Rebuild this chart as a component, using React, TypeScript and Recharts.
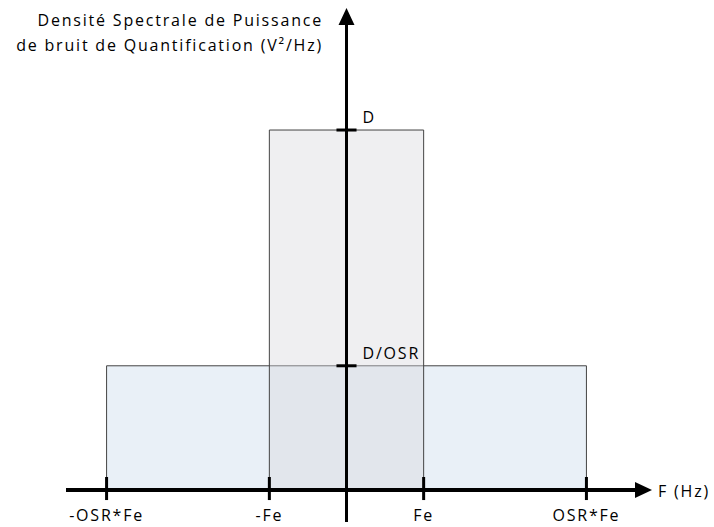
import React from 'react'
import { ComposedChart, XAxis, YAxis, ReferenceArea, ReferenceLine } from 'recharts'

// frequency marks on the F axis (in units of Fe)
const freqLabels = ['-OSR*Fe', '-Fe', 'Fe', 'OSR*Fe']
const freqValues = [-3.11, -1, 1, 3.11]

// levels on the PSD axis (in units of D)
const levelLabels = ['D', 'D/OSR']
const levelValues = [1, 0.345]

// the two noise bands: [from, to, level]
const bandFrom = [-3.11, -1]
const bandTo = [3.11, 1]
const bandLevel = [0.345, 1]
const bandFill = ['#c9d9ec', '#d6d6dc']

const font = '"Open Sans", sans-serif'
const spacing = '1.8px'

const ArrowLine = (props: any) => {
  const { x1, y1, x2, y2 } = props
  const dx = x2 - x1
  const dy = y2 - y1
  const len = Math.sqrt(dx * dx + dy * dy) || 1
  const ux = dx / len
  const uy = dy / len
  const L = 17
  const W = 8
  const bx = x2 - ux * L
  const by = y2 - uy * L
  const pts = `${x2},${y2} ${bx - uy * W},${by + ux * W} ${bx + uy * W},${by - ux * W}`
  return (
    <g>
      <line x1={x1} y1={y1} x2={bx + ux * 2} y2={by + uy * 2} stroke="#000" strokeWidth={props.strokeWidth} />
      <polygon points={pts} fill="#000" />
    </g>
  )
}

const FreqLabel = (props: any) => {
  const { viewBox, value } = props
  return (
    <text
      x={viewBox.x}
      y={viewBox.y + viewBox.height + 21}
      textAnchor="middle"
      fontFamily={font}
      fontSize={16}
      fill="#000"
      style={{ letterSpacing: spacing }}
    >
      {value}
    </text>
  )
}

const LevelLabel = (props: any) => {
  const { viewBox, value } = props
  return (
    <text
      x={viewBox.x + viewBox.width + 6}
      y={viewBox.y - 7}
      textAnchor="start"
      fontFamily={font}
      fontSize={16}
      fill="#000"
      style={{ letterSpacing: spacing }}
    >
      {value}
    </text>
  )
}

export default function App() {
  return (
    <div style={{ position: 'absolute', left: 0, top: 0, width: 714, height: 527 }}>
      <ComposedChart
        width={714}
        height={527}
        data={[{ f: 0, v: 0 }]}
        margin={{ top: 8, right: 62, left: 66, bottom: 5 }}
      >
        <XAxis type="number" dataKey="f" domain={[-3.636, 3.96]} hide allowDataOverflow />
        <YAxis type="number" domain={[-0.089, 1.339]} hide allowDataOverflow />
        <ReferenceLine
          segment={[{ x: 0, y: -0.089 }, { x: 0, y: 1.339 }]}
          stroke="#000"
          strokeWidth={3}
          ifOverflow="visible"
          shape={ArrowLine}
        />
        {bandFrom.map((x1, i) => (
          <ReferenceArea
            key={'band' + i}
            x1={x1}
            x2={bandTo[i]}
            y1={0}
            y2={bandLevel[i]}
            fill={bandFill[i]}
            fillOpacity={0.4}
            stroke="#444"
            strokeWidth={1}
            strokeOpacity={1}
            ifOverflow="visible"
          />
        ))}
        <ReferenceLine
          segment={[{ x: -3.636, y: 0 }, { x: 3.96, y: 0 }]}
          stroke="#000"
          strokeWidth={4}
          ifOverflow="visible"
          shape={ArrowLine}
        />
        {freqValues.map((x, i) => (
          <ReferenceLine
            key={'ft' + i}
            segment={[{ x, y: 0.036 }, { x, y: -0.028 }]}
            stroke="#000"
            strokeWidth={3}
            ifOverflow="visible"
            label={<FreqLabel value={freqLabels[i]} />}
          />
        ))}
        {levelValues.map((y, i) => (
          <ReferenceLine
            key={'lt' + i}
            segment={[{ x: -0.13, y }, { x: 0.13, y }]}
            stroke="#000"
            strokeWidth={3}
            ifOverflow="visible"
            label={<LevelLabel value={levelLabels[i]} />}
          />
        ))}
      </ComposedChart>
      <div
        style={{
          position: 'absolute',
          right: 714 - 323,
          top: 8,
          textAlign: 'right',
          fontFamily: font,
          fontSize: 16,
          lineHeight: '25px',
          letterSpacing: spacing,
          whiteSpace: 'nowrap',
          color: '#000',
        }}
      >
        Densité Spectrale de Puissance
        <br />
        de bruit de Quantification (V²/Hz)
      </div>
      <div
        style={{
          position: 'absolute',
          left: 658,
          top: 480,
          fontFamily: font,
          fontSize: 16,
          letterSpacing: spacing,
          whiteSpace: 'nowrap',
          color: '#000',
        }}
      >
        F (Hz)
      </div>
    </div>
  )
}
